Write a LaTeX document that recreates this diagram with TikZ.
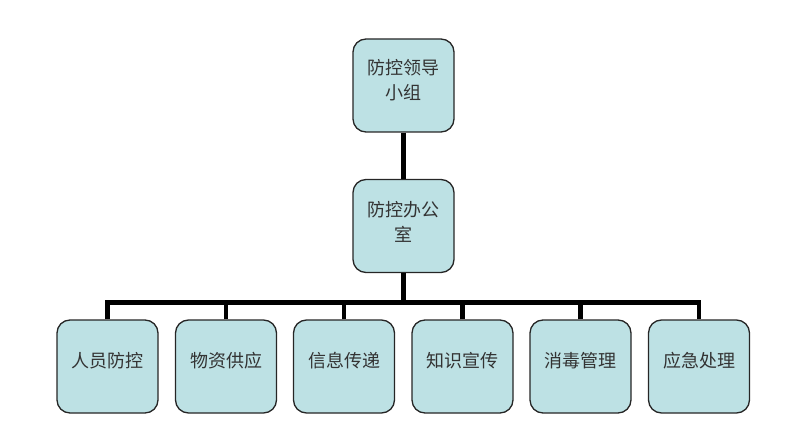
\documentclass[tikz,border=0pt]{standalone}
\usepackage{fontspec}
\newfontfamily\cjk{Noto Sans CJK SC}
\definecolor{boxfill}{HTML}{BDE1E4}
\definecolor{boxline}{HTML}{262626}
\definecolor{txt}{HTML}{333333}
\begin{document}
\begin{tikzpicture}[x=1pt,y=-1pt,
  orgbox/.style={draw=boxline,line width=1.3pt,fill=boxfill,rounded corners=13pt,
    minimum width=101pt,minimum height=93pt,inner sep=0pt},
  orgtext/.style={text=txt,font=\cjk\fontsize{18}{25}\selectfont,align=center,inner sep=0pt},
  conn/.style={line width=4.2pt,draw=black}]
\useasboundingbox (0,0) rectangle (800,422);
\node[orgbox] (top) at (403.5,85.5) {};
\node[orgbox] (mid) at (403.5,226) {};
\node[orgbox] (b1) at (107.5,366.5) {};
\node[orgbox] (b2) at (226,366.5) {};
\node[orgbox] (b3) at (344,366.5) {};
\node[orgbox] (b4) at (462.5,366.5) {};
\node[orgbox] (b5) at (580.5,366.5) {};
\node[orgbox] (b6) at (699,366.5) {};
\node[orgtext] (ttop) at ([yshift=5pt]top.center) {防控领导\\小组};
\node[orgtext] (tmid) at ([yshift=4pt]mid.center) {防控办公\\室};
\node[orgtext] (t1) at ([yshift=6pt]b1.center) {人员防控};
\node[orgtext] (t2) at ([yshift=6pt]b2.center) {物资供应};
\node[orgtext] (t3) at ([yshift=6pt]b3.center) {信息传递};
\node[orgtext] (t4) at ([yshift=6pt]b4.center) {知识宣传};
\node[orgtext] (t5) at ([yshift=6pt]b5.center) {消毒管理};
\node[orgtext] (t6) at ([yshift=6pt]b6.center) {应急处理};
\coordinate (bus) at (403.5,302.5);
\draw[conn] (top.south) -- (mid.north);
\draw[conn] (mid.south) -- (mid.south |- bus);
\draw[conn,line join=miter] (b1.north) -- (b1.north |- bus) -- (b6.north |- bus) -- (b6.north);
\draw[conn] (b2.north) -- (b2.north |- bus);
\draw[conn] (b3.north) -- (b3.north |- bus);
\draw[conn] (b4.north) -- (b4.north |- bus);
\draw[conn] (b5.north) -- (b5.north |- bus);
\end{tikzpicture}
\end{document}
